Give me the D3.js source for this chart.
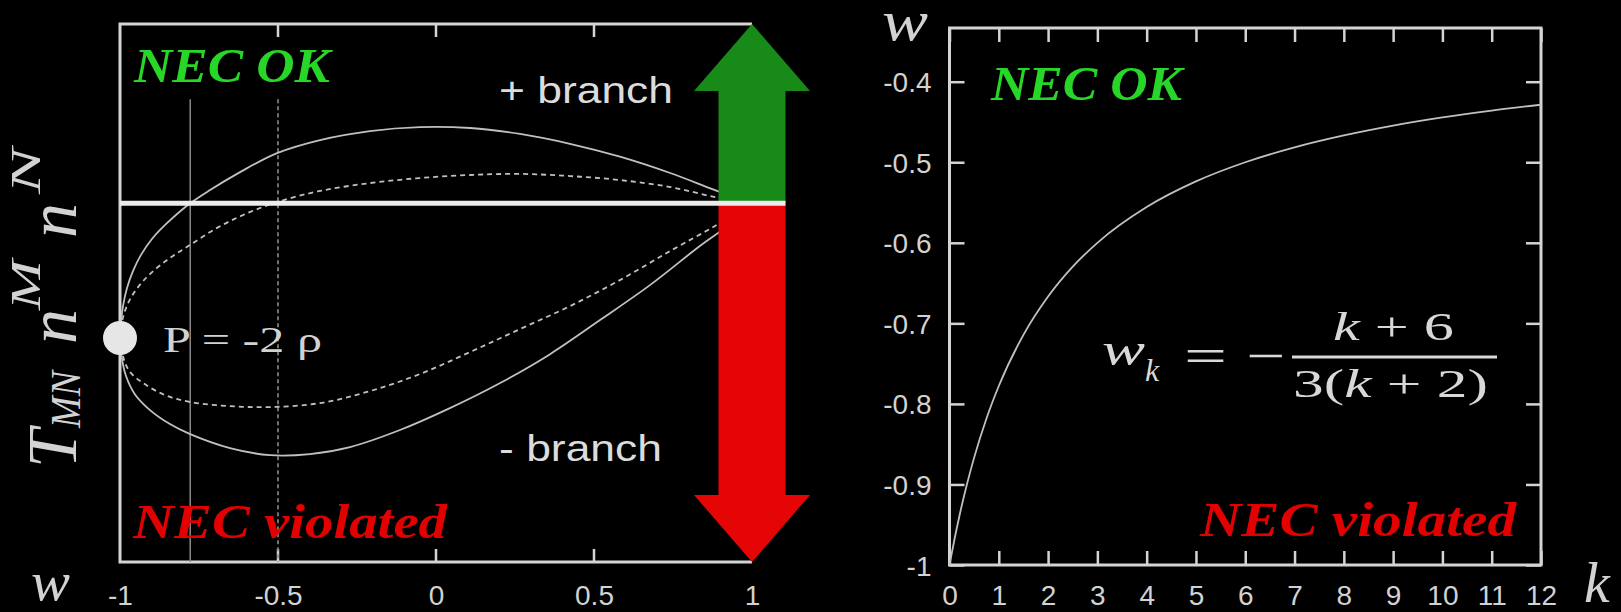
<!DOCTYPE html>
<html>
<head>
<meta charset="utf-8">
<script src="https://cdn.jsdelivr.net/npm/d3@7"></script>
<style>
  html, body { margin: 0; padding: 0; background: #000; }
  svg { display: block; }
</style>
</head>
<body>
<svg id="chart" width="1621" height="612"></svg>
<script>
// ---------- left panel: T_MN n^M n^N against w ----------
const leftTicks = [-1, -0.5, 0, 0.5, 1];
const leftTickLabels = ["-1", "-0.5", "0", "0.5", "1"];
const leftInnerTicks = [-0.5, 0, 0.5];

// P = -2ρ point (w = -1)
const pointW = -1;
const pointT = -0.751;

// guide lines
const solidGuideW = -7 / 9;
const dashedGuideW = -0.5;
const guideTopT = 0.58;

// + branch, solid
const upSolidW = [-1, -0.9968, -0.9905, -0.978, -0.959, -0.934, -0.899, -0.854, -0.785, -0.715, -0.620, -0.503, -0.367, -0.209, -0.051, 0.108, 0.266, 0.424, 0.582, 0.741, 0.883, 1];
const upSolidT = [-0.751, -0.662, -0.573, -0.473, -0.378, -0.289, -0.199, -0.115, -0.009, 0.074, 0.174, 0.280, 0.353, 0.403, 0.425, 0.420, 0.387, 0.332, 0.260, 0.169, 0.074, 0];
// + branch, dashed
const upDashW = [-1, -0.991, -0.968, -0.921, -0.851, -0.778, -0.693, -0.604, -0.503, -0.367, -0.209, -0.051, 0.108, 0.266, 0.424, 0.582, 0.741, 0.883, 1];
const upDashT = [-0.751, -0.640, -0.534, -0.422, -0.316, -0.232, -0.137, -0.060, 0.007, 0.069, 0.113, 0.141, 0.158, 0.164, 0.152, 0.130, 0.091, 0.035, 0];
// - branch, dashed
const lowDashW = [-1, -0.987, -0.968, -0.927, -0.858, -0.778, -0.652, -0.525, -0.367, -0.209, -0.051, 0.108, 0.266, 0.424, 0.582, 0.741, 0.883, 1];
const lowDashT = [-0.751, -0.874, -0.941, -1.002, -1.069, -1.108, -1.131, -1.136, -1.114, -1.047, -0.952, -0.829, -0.701, -0.573, -0.428, -0.266, -0.126, 0];
// - branch, solid
const lowSolidW = [-1, -0.994, -0.981, -0.953, -0.905, -0.842, -0.778, -0.652, -0.525, -0.399, -0.272, -0.114, 0.044, 0.203, 0.361, 0.519, 0.677, 0.835, 0.930, 1];
const lowSolidT = [-0.751, -0.863, -0.963, -1.064, -1.153, -1.231, -1.287, -1.365, -1.404, -1.398, -1.359, -1.264, -1.142, -1.002, -0.841, -0.651, -0.456, -0.238, -0.116, 0];

// ---------- right panel: w_k against k ----------
const kTicks = [0, 1, 2, 3, 4, 5, 6, 7, 8, 9, 10, 11, 12];
const kTickLabels = ["0", "1", "2", "3", "4", "5", "6", "7", "8", "9", "10", "11", "12"];
const wTicks = [-1, -0.9, -0.8, -0.7, -0.6, -0.5, -0.4];
const wTickLabels = ["-1", "-0.9", "-0.8", "-0.7", "-0.6", "-0.5", "-0.4"];
const kValues = [0, 0.1, 0.2, 0.35, 0.5, 0.75, 1, 1.5, 2, 2.5, 3, 4, 5, 6, 7, 8, 9, 10, 11, 12];
const wkValues = [-1, -0.9683, -0.9394, -0.9007, -0.8667, -0.8182, -0.7778, -0.7143, -0.6667, -0.6296, -0.6,
                  -0.5556, -0.5238, -0.5, -0.4815, -0.4667, -0.4545, -0.4444, -0.4359, -0.4286];

// ---------- styling ----------
const SANS = "'Liberation Sans', Arial, Helvetica, sans-serif";
const SERIF = "'Liberation Serif', 'Times New Roman', serif";
const FRAME = "#d4d4d4";
const CURVE = "#c0c0c0";
const LABEL = "#d2d2d2";
const GREEN_TXT = "#27d627";
const RED_TXT = "#e30000";
const GREEN_ARROW = "#188a18";
const RED_ARROW = "#e50505";

const svg = d3.select("#chart");
svg.append("rect").attr("width", 1621).attr("height", 612).attr("fill", "#000");

// ================= LEFT PANEL =================
const xL = d3.scaleLinear().domain([-1, 1]).range([120, 752]);
const yL = d3.scaleLinear().domain([-2, 1]).range([562, 24]);
const L = svg.append("g");

// frame (left, top, bottom)
L.append("path")
  .attr("d", `M${xL(1)},${yL.range()[1]} H${xL(-1)} V${yL.range()[0]} H${xL(1)}`)
  .attr("fill", "none").attr("stroke", FRAME).attr("stroke-width", 3);

// bottom axis labels
const axL = d3.axisBottom(xL).tickValues(leftTicks)
  .tickFormat((d, i) => leftTickLabels[i]).tickSizeInner(0).tickSizeOuter(0).tickPadding(23);
const gAxL = L.append("g").attr("transform", `translate(0,${yL.range()[0]})`).call(axL);
gAxL.select(".domain").remove();
gAxL.selectAll("text").attr("font-family", SANS).attr("font-size", 28).attr("fill", LABEL);

// inward ticks top and bottom
leftInnerTicks.forEach(v => {
  L.append("line").attr("x1", xL(v)).attr("x2", xL(v))
    .attr("y1", yL.range()[0]).attr("y2", yL.range()[0] - 13)
    .attr("stroke", FRAME).attr("stroke-width", 2.5);
  L.append("line").attr("x1", xL(v)).attr("x2", xL(v))
    .attr("y1", yL.range()[1]).attr("y2", yL.range()[1] + 13)
    .attr("stroke", FRAME).attr("stroke-width", 2.5);
});

// vertical guides
L.append("line").attr("x1", xL(solidGuideW)).attr("x2", xL(solidGuideW))
  .attr("y1", yL(guideTopT)).attr("y2", yL.range()[0])
  .attr("stroke", "#8a8a8a").attr("stroke-width", 1.5);
L.append("line").attr("x1", xL(dashedGuideW)).attr("x2", xL(dashedGuideW))
  .attr("y1", yL(guideTopT)).attr("y2", yL.range()[0])
  .attr("stroke", "#8a8a8a").attr("stroke-width", 1.6).attr("stroke-dasharray", "4,3");

// curves
const lineL = d3.line().x(d => xL(d[0])).y(d => yL(d[1])).curve(d3.curveCatmullRom.alpha(0.5));
const curves = [
  { w: upSolidW, t: upSolidT, dash: null },
  { w: upDashW, t: upDashT, dash: "5,4" },
  { w: lowDashW, t: lowDashT, dash: "5,4" },
  { w: lowSolidW, t: lowSolidT, dash: null }
];
curves.forEach(c => {
  L.append("path").datum(d3.zip(c.w, c.t)).attr("d", lineL)
    .attr("fill", "none").attr("stroke", CURVE).attr("stroke-width", 1.8)
    .attr("stroke-dasharray", c.dash);
});

// branch arrows at w = 1
const ax = xL(1), a0 = yL(0);
const shaft = 33.5, head = 58, headLen = 67;
const topY = yL.range()[1], botY = yL.range()[0];
L.append("path")
  .attr("d", `M${ax - shaft},${a0} V${topY + headLen} H${ax - head} L${ax},${topY} L${ax + head},${topY + headLen} H${ax + shaft} V${a0} Z`)
  .attr("fill", GREEN_ARROW);
L.append("path")
  .attr("d", `M${ax - shaft},${a0} V${botY - headLen} H${ax - head} L${ax},${botY} L${ax + head},${botY - headLen} H${ax + shaft} V${a0} Z`)
  .attr("fill", RED_ARROW);

// NEC boundary line
L.append("line").attr("x1", xL(-1)).attr("x2", ax + shaft)
  .attr("y1", yL(0)).attr("y2", yL(0))
  .attr("stroke", "#ececec").attr("stroke-width", 5);

// P = -2ρ point
L.append("circle").attr("cx", xL(pointW)).attr("cy", yL(pointT)).attr("r", 17)
  .attr("fill", "#e6e6e6");
L.append("text").attr("x", xL(pointW) + 43).attr("y", yL(pointT) + 14)
  .attr("font-family", SERIF).attr("font-size", 36).attr("fill", LABEL)
  .attr("textLength", 159).attr("lengthAdjust", "spacingAndGlyphs")
  .text("P = -2 ρ");

// text labels
L.append("text").attr("x", 134).attr("y", 82)
  .attr("font-family", SERIF).attr("font-weight", "bold").attr("font-style", "italic")
  .attr("font-size", 48).attr("fill", GREEN_TXT)
  .attr("textLength", 196).attr("lengthAdjust", "spacingAndGlyphs").text("NEC OK");
L.append("text").attr("x", 133).attr("y", 538)
  .attr("font-family", SERIF).attr("font-weight", "bold").attr("font-style", "italic")
  .attr("font-size", 48).attr("fill", RED_TXT)
  .attr("textLength", 314).attr("lengthAdjust", "spacingAndGlyphs").text("NEC violated");
L.append("text").attr("x", 499).attr("y", 103)
  .attr("font-family", SANS).attr("font-size", 37).attr("fill", "#dcdcdc")
  .attr("textLength", 174).attr("lengthAdjust", "spacingAndGlyphs").text("+ branch");
L.append("text").attr("x", 499).attr("y", 461)
  .attr("font-family", SANS).attr("font-size", 37).attr("fill", "#dcdcdc")
  .attr("textLength", 163).attr("lengthAdjust", "spacingAndGlyphs").text("- branch");

// x label
L.append("text").attr("x", 31).attr("y", 600)
  .attr("font-family", SERIF).attr("font-style", "italic").attr("font-size", 54)
  .attr("fill", LABEL).attr("textLength", 39).attr("lengthAdjust", "spacingAndGlyphs").text("w");

// y label  T_MN n^M n^N (rotated)
const yl = L.append("g").attr("transform", "translate(76,468) rotate(-90)")
  .attr("font-family", SERIF).attr("font-style", "italic").attr("fill", LABEL);
yl.append("text").attr("x", 0).attr("y", 0).attr("font-size", 70).text("T");
yl.append("text").attr("x", 40).attr("y", 4).attr("font-size", 42)
  .attr("textLength", 57).attr("lengthAdjust", "spacingAndGlyphs").text("MN");
yl.append("text").attr("x", 124).attr("y", 0).attr("font-size", 70).text("n");
yl.append("text").attr("x", 158).attr("y", -36).attr("font-size", 42)
  .attr("textLength", 50).attr("lengthAdjust", "spacingAndGlyphs").text("M");
yl.append("text").attr("x", 230).attr("y", 0).attr("font-size", 70).text("n");
yl.append("text").attr("x", 274).attr("y", -36).attr("font-size", 42)
  .attr("textLength", 46).attr("lengthAdjust", "spacingAndGlyphs").text("N");

// ================= RIGHT PANEL =================
const xR = d3.scaleLinear().domain([0, 12]).range([949.5, 1541]);
const yR = d3.scaleLinear().domain([-1, -1 / 3]).range([565, 28]);
const R = svg.append("g");

R.append("rect").attr("x", xR(0)).attr("y", yR(-1 / 3))
  .attr("width", xR(12) - xR(0)).attr("height", yR(-1) - yR(-1 / 3))
  .attr("fill", "none").attr("stroke", FRAME).attr("stroke-width", 3);

const axB = d3.axisBottom(xR).tickValues(kTicks).tickFormat((d, i) => kTickLabels[i])
  .tickSizeInner(-14).tickSizeOuter(0).tickPadding(20);
const gB = R.append("g").attr("transform", `translate(0,${yR(-1)})`).call(axB);
const axT = d3.axisTop(xR).tickValues(kTicks).tickFormat("").tickSizeInner(-14).tickSizeOuter(0);
const gT = R.append("g").attr("transform", `translate(0,${yR(-1 / 3)})`).call(axT);
const axLft = d3.axisLeft(yR).tickValues(wTicks).tickFormat((d, i) => wTickLabels[i])
  .tickSizeInner(-15).tickSizeOuter(0).tickPadding(18);
const gLf = R.append("g").attr("transform", `translate(${xR(0)},0)`).call(axLft);
const axRt = d3.axisRight(yR).tickValues(wTicks).tickFormat("").tickSizeInner(-15).tickSizeOuter(0);
const gRt = R.append("g").attr("transform", `translate(${xR(12)},0)`).call(axRt);
[gB, gT, gLf, gRt].forEach(g => {
  g.select(".domain").remove();
  g.selectAll("line").attr("stroke", FRAME).attr("stroke-width", 2.5);
  g.selectAll("text").attr("font-family", SANS).attr("font-size", 28).attr("fill", LABEL);
});
gLf.selectAll("text").attr("dy", "0.36em");

// w_k curve
const lineR = d3.line().x(d => xR(d[0])).y(d => yR(d[1])).curve(d3.curveMonotoneX);
R.append("path").datum(d3.zip(kValues, wkValues)).attr("d", lineR)
  .attr("fill", "none").attr("stroke", CURVE).attr("stroke-width", 1.8);

// labels
R.append("text").attr("x", 991).attr("y", 100)
  .attr("font-family", SERIF).attr("font-weight", "bold").attr("font-style", "italic")
  .attr("font-size", 48).attr("fill", GREEN_TXT)
  .attr("textLength", 191).attr("lengthAdjust", "spacingAndGlyphs").text("NEC OK");
R.append("text").attr("x", 1200).attr("y", 536)
  .attr("font-family", SERIF).attr("font-weight", "bold").attr("font-style", "italic")
  .attr("font-size", 48).attr("fill", RED_TXT)
  .attr("textLength", 316).attr("lengthAdjust", "spacingAndGlyphs").text("NEC violated");

R.append("text").attr("x", 882).attr("y", 40)
  .attr("font-family", SERIF).attr("font-style", "italic").attr("font-size", 58)
  .attr("fill", LABEL).attr("textLength", 46).attr("lengthAdjust", "spacingAndGlyphs").text("w");
R.append("text").attr("x", 1584).attr("y", 602)
  .attr("font-family", SERIF).attr("font-style", "italic").attr("font-size", 58)
  .attr("fill", LABEL).text("k");

// formula  w_k = -(k+6)/(3(k+2))
const F = R.append("g").attr("fill", "#d8d8d8").attr("font-family", SERIF);
F.append("text").attr("x", 1102).attr("y", 365).attr("font-style", "italic").attr("font-size", 46)
  .attr("textLength", 43).attr("lengthAdjust", "spacingAndGlyphs").text("w");
F.append("text").attr("x", 1145).attr("y", 381).attr("font-style", "italic").attr("font-size", 32)
  .text("k");
F.append("text").attr("x", 1184).attr("y", 372).attr("font-size", 48)
  .attr("textLength", 43).attr("lengthAdjust", "spacingAndGlyphs").text("=");
F.append("text").attr("x", 1246).attr("y", 372).attr("font-size", 48)
  .attr("textLength", 39).attr("lengthAdjust", "spacingAndGlyphs").text("\u2212");
F.append("line").attr("x1", 1292).attr("x2", 1497).attr("y1", 357).attr("y2", 357)
  .attr("stroke", "#d8d8d8").attr("stroke-width", 3);
const num = F.append("text").attr("x", 1333).attr("y", 340).attr("font-size", 40)
  .attr("textLength", 121).attr("lengthAdjust", "spacingAndGlyphs");
num.append("tspan").attr("font-style", "italic").text("k");
num.append("tspan").text(" + 6");
const den = F.append("text").attr("x", 1293).attr("y", 397).attr("font-size", 40)
  .attr("textLength", 195).attr("lengthAdjust", "spacingAndGlyphs");
den.append("tspan").text("3(");
den.append("tspan").attr("font-style", "italic").text("k");
den.append("tspan").text(" + 2)");
</script>
</body>
</html>
